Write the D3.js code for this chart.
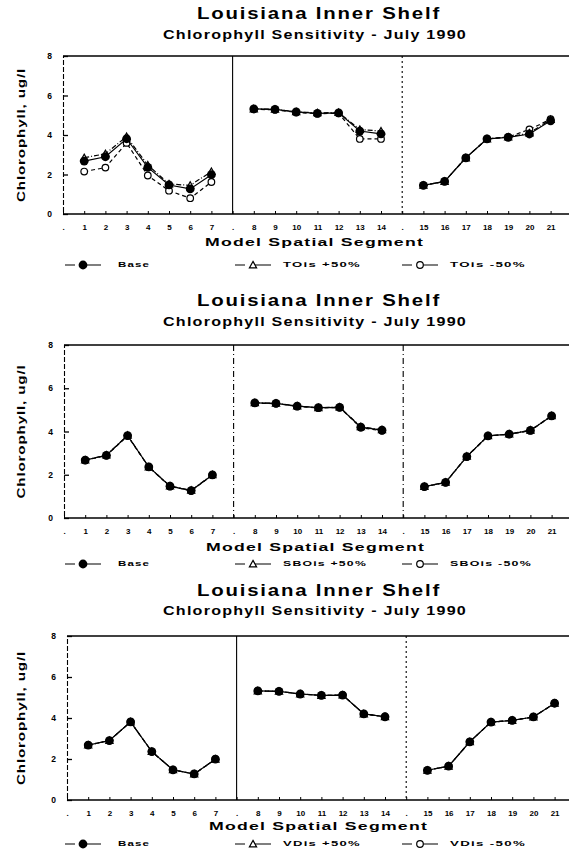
<!DOCTYPE html>
<html><head><meta charset="utf-8">
<script src="https://cdn.jsdelivr.net/npm/d3@7"></script>
<style>
body{margin:0;background:#fff}
svg{display:block;background:#fff}
text{font-family:"Liberation Sans",Arial,sans-serif;font-weight:bold;fill:#000}
</style>
</head><body>
<svg id="chart" width="569" height="850"></svg>
<script>
// ---------- data ----------
const segments = [1,2,3,4,5,6,7,8,9,10,11,12,13,14,15,16,17,18,19,20,21];
// axis slot labels (slot 0, 8, 16 are divider slots)
const tickLabels = [".","1","2","3","4","5","6","7",".","8","9","10","11","12","13","14",".","15","16","17","18","19","20","21"];
const yTicks = [0,2,4,6,8];

const base      = [2.68,2.90,3.81,2.36,1.47,1.27,1.99,5.32,5.30,5.17,5.10,5.12,4.20,4.06,1.45,1.65,2.84,3.80,3.88,4.05,4.72];
const toisPlus  = [2.85,3.05,3.92,2.48,1.52,1.45,2.15,5.32,5.30,5.17,5.12,5.14,4.28,4.20,1.45,1.65,2.84,3.80,3.90,4.10,4.78];
const toisMinus = [2.15,2.35,3.60,1.95,1.18,0.80,1.62,5.30,5.28,5.14,5.08,5.10,3.80,3.80,1.45,1.65,2.84,3.80,3.90,4.28,4.80];
const sboPlus   = [2.68,2.91,3.82,2.36,1.48,1.28,2.00,5.33,5.30,5.18,5.10,5.13,4.22,4.08,1.45,1.65,2.85,3.80,3.88,4.06,4.73];
const sboMinus  = [2.67,2.89,3.80,2.35,1.46,1.26,1.98,5.31,5.29,5.16,5.09,5.11,4.18,4.03,1.44,1.64,2.83,3.79,3.87,4.04,4.71];
const vdPlus    = [2.68,2.90,3.81,2.36,1.47,1.27,1.99,5.32,5.30,5.17,5.10,5.12,4.20,4.06,1.45,1.65,2.84,3.80,3.88,4.05,4.72];
const vdMinus   = [2.68,2.90,3.81,2.36,1.47,1.27,1.99,5.32,5.30,5.17,5.10,5.12,4.20,4.06,1.45,1.65,2.84,3.80,3.88,4.05,4.72];

const titleText = "Louisiana Inner Shelf";
const subtitleText = "Chlorophyll Sensitivity - July 1990";
const xTitle = "Model Spatial Segment";
const yTitle = "Chlorophyll, ug/l";
const panelSeries = [
  {names:["Base","TOis +50%","TOis -50%"], values:[base,toisPlus,toisMinus]},
  {names:["Base","SBOis +50%","SBOis -50%"], values:[base,sboPlus,sboMinus]},
  {names:["Base","VDis +50%","VDis -50%"], values:[base,vdPlus,vdMinus]}
];

// ---------- layout ----------
const layout = [
  {titleY:15, subY:36, top:56, bottom:214, x0:63, xTitleY:243, legY:265, div1:"solid", div2:"2,3"},
  {titleY:302, subY:323, top:345, bottom:518, x0:64, xTitleY:548, legY:564, div1:"6,3,1,3", div2:"6,3,1,3"},
  {titleY:592, subY:612, top:636, bottom:800, x0:67, xTitleY:827, legY:844, div1:"solid", div2:"2,3"}
];
const slotW = 21.2;
const slotOf = s => s <= 7 ? s : (s <= 14 ? s + 1 : s + 2);
const styles = [
  {dash:null, marker:"dot"},
  {dash:"5,2,1,2", marker:"tri"},
  {dash:"4,3", marker:"circ"}
];
const legX = [65, 235, 402];
const legTextX = [118, 283, 450];
const legTextW = [32, 78, 76];

const svg = d3.select("#chart");

function drawMarker(g, type, cx, cy){
  if(type==="dot"){
    g.append("circle").attr("cx",cx).attr("cy",cy).attr("r",4.4).attr("fill","#000");
  } else if(type==="tri"){
    const s = 3.6;
    g.append("path").attr("d",`M${cx},${cy-s}L${cx+s},${cy+s*0.8}L${cx-s},${cy+s*0.8}Z`)
      .attr("fill","#fff").attr("stroke","#000").attr("stroke-width",1.2);
  } else {
    g.append("circle").attr("cx",cx).attr("cy",cy).attr("r",3.3)
      .attr("fill","#fff").attr("stroke","#000").attr("stroke-width",1.2);
  }
}

function fitText(sel, w, ls){
  sel.attr("letter-spacing", ls).attr("textLength", w).attr("lengthAdjust","spacingAndGlyphs");
  return sel;
}

layout.forEach((L, pi) => {
  const P = panelSeries[pi];
  const g = svg.append("g");
  const x = d3.scaleLinear().domain([0,24]).range([L.x0, L.x0 + 24*slotW]);
  const y = d3.scaleLinear().domain([0,8]).range([L.bottom, L.top]);

  // titles
  fitText(g.append("text").attr("x",197).attr("y",L.titleY)
    .attr("dominant-baseline","middle").attr("font-size",17).text(titleText), 244, 1.5);
  fitText(g.append("text").attr("x",163).attr("y",L.subY)
    .attr("dominant-baseline","middle").attr("font-size",13).text(subtitleText), 304, 1);

  // top frame
  g.append("line").attr("x1",x(0)).attr("x2",569).attr("y1",y(8)).attr("y2",y(8))
    .attr("stroke","#000").attr("stroke-width",1.3);

  // y axis
  const ya = g.append("g").attr("transform",`translate(${x(0)},0)`)
    .call(d3.axisLeft(y).tickValues(yTicks).tickSize(-5).tickPadding(11).tickFormat(d3.format("d")));
  ya.select(".domain").attr("stroke-dasharray","5,2").attr("stroke-width",1.1);
  ya.selectAll(".tick line").attr("stroke-width",1.3);
  ya.selectAll("text").attr("font-size",8.5).attr("font-family","Liberation Sans,Arial,sans-serif").attr("font-weight","bold");

  // x axis
  const xa = g.append("g").attr("transform",`translate(0,${y(0)})`)
    .call(d3.axisBottom(x).tickValues(d3.range(0,24)).tickSize(-3).tickPadding(10)
      .tickFormat(i => tickLabels[i]));
  xa.select(".domain").attr("d",`M${x(0)},0H569`).attr("stroke-width",1.6);
  xa.selectAll("text").attr("font-size",8).attr("font-family","Liberation Sans,Arial,sans-serif").attr("font-weight","bold");

  // dividers
  [[8,L.div1],[16,L.div2]].forEach(([slot,d]) => {
    const ln = g.append("line").attr("x1",x(slot)).attr("x2",x(slot)).attr("y1",y(8)).attr("y2",y(0))
      .attr("stroke","#000").attr("stroke-width",1.1);
    if(d!=="solid") ln.attr("stroke-dasharray",d);
  });

  // axis titles
  fitText(g.append("text").attr("x",L.x0 + 142).attr("y",L.xTitleY)
    .attr("dominant-baseline","middle").attr("font-size",11.5).text(xTitle), 219, 0.8);
  const yMid = (y(0)+y(8))/2;
  fitText(g.append("text").attr("transform",`translate(22,${yMid + 67}) rotate(-90)`)
    .attr("dominant-baseline","middle").attr("font-size",11).text(yTitle), 134, 0.6);

  // series: draw in order -50%, +50%, base so base on top
  [2,1,0].forEach(si => {
    const vals = P.values[si];
    const st = styles[si];
    const groups = [[0,7],[7,14],[14,21]];
    groups.forEach(([a,b]) => {
      const pts = segments.slice(a,b).map((s,k) => [x(slotOf(s)), y(vals[a+k])]);
      const p = g.append("path").attr("d",d3.line()(pts)).attr("fill","none")
        .attr("stroke","#000").attr("stroke-width",1.2);
      if(st.dash) p.attr("stroke-dasharray",st.dash);
    });
    segments.forEach((s,k) => drawMarker(g, st.marker, x(slotOf(s)), y(vals[k])));
  });

  // legend
  P.names.forEach((nm, si) => {
    const lx = legX[si], ly = L.legY;
    const st = styles[si];
    g.append("line").attr("x1",lx).attr("x2",lx+36).attr("y1",ly).attr("y2",ly)
      .attr("stroke","#000").attr("stroke-width",1.2).attr("stroke-dasharray","10,6,20");
    drawMarker(g, st.marker, lx+18, ly);
    const w = nm.length > 9 ? legTextW[si] + 6 : legTextW[si];
    fitText(g.append("text").attr("x",legTextX[si]).attr("y",ly).attr("dominant-baseline","middle")
      .attr("font-size",8).text(nm), w, 0.8);
  });
});
</script>
</body></html>
